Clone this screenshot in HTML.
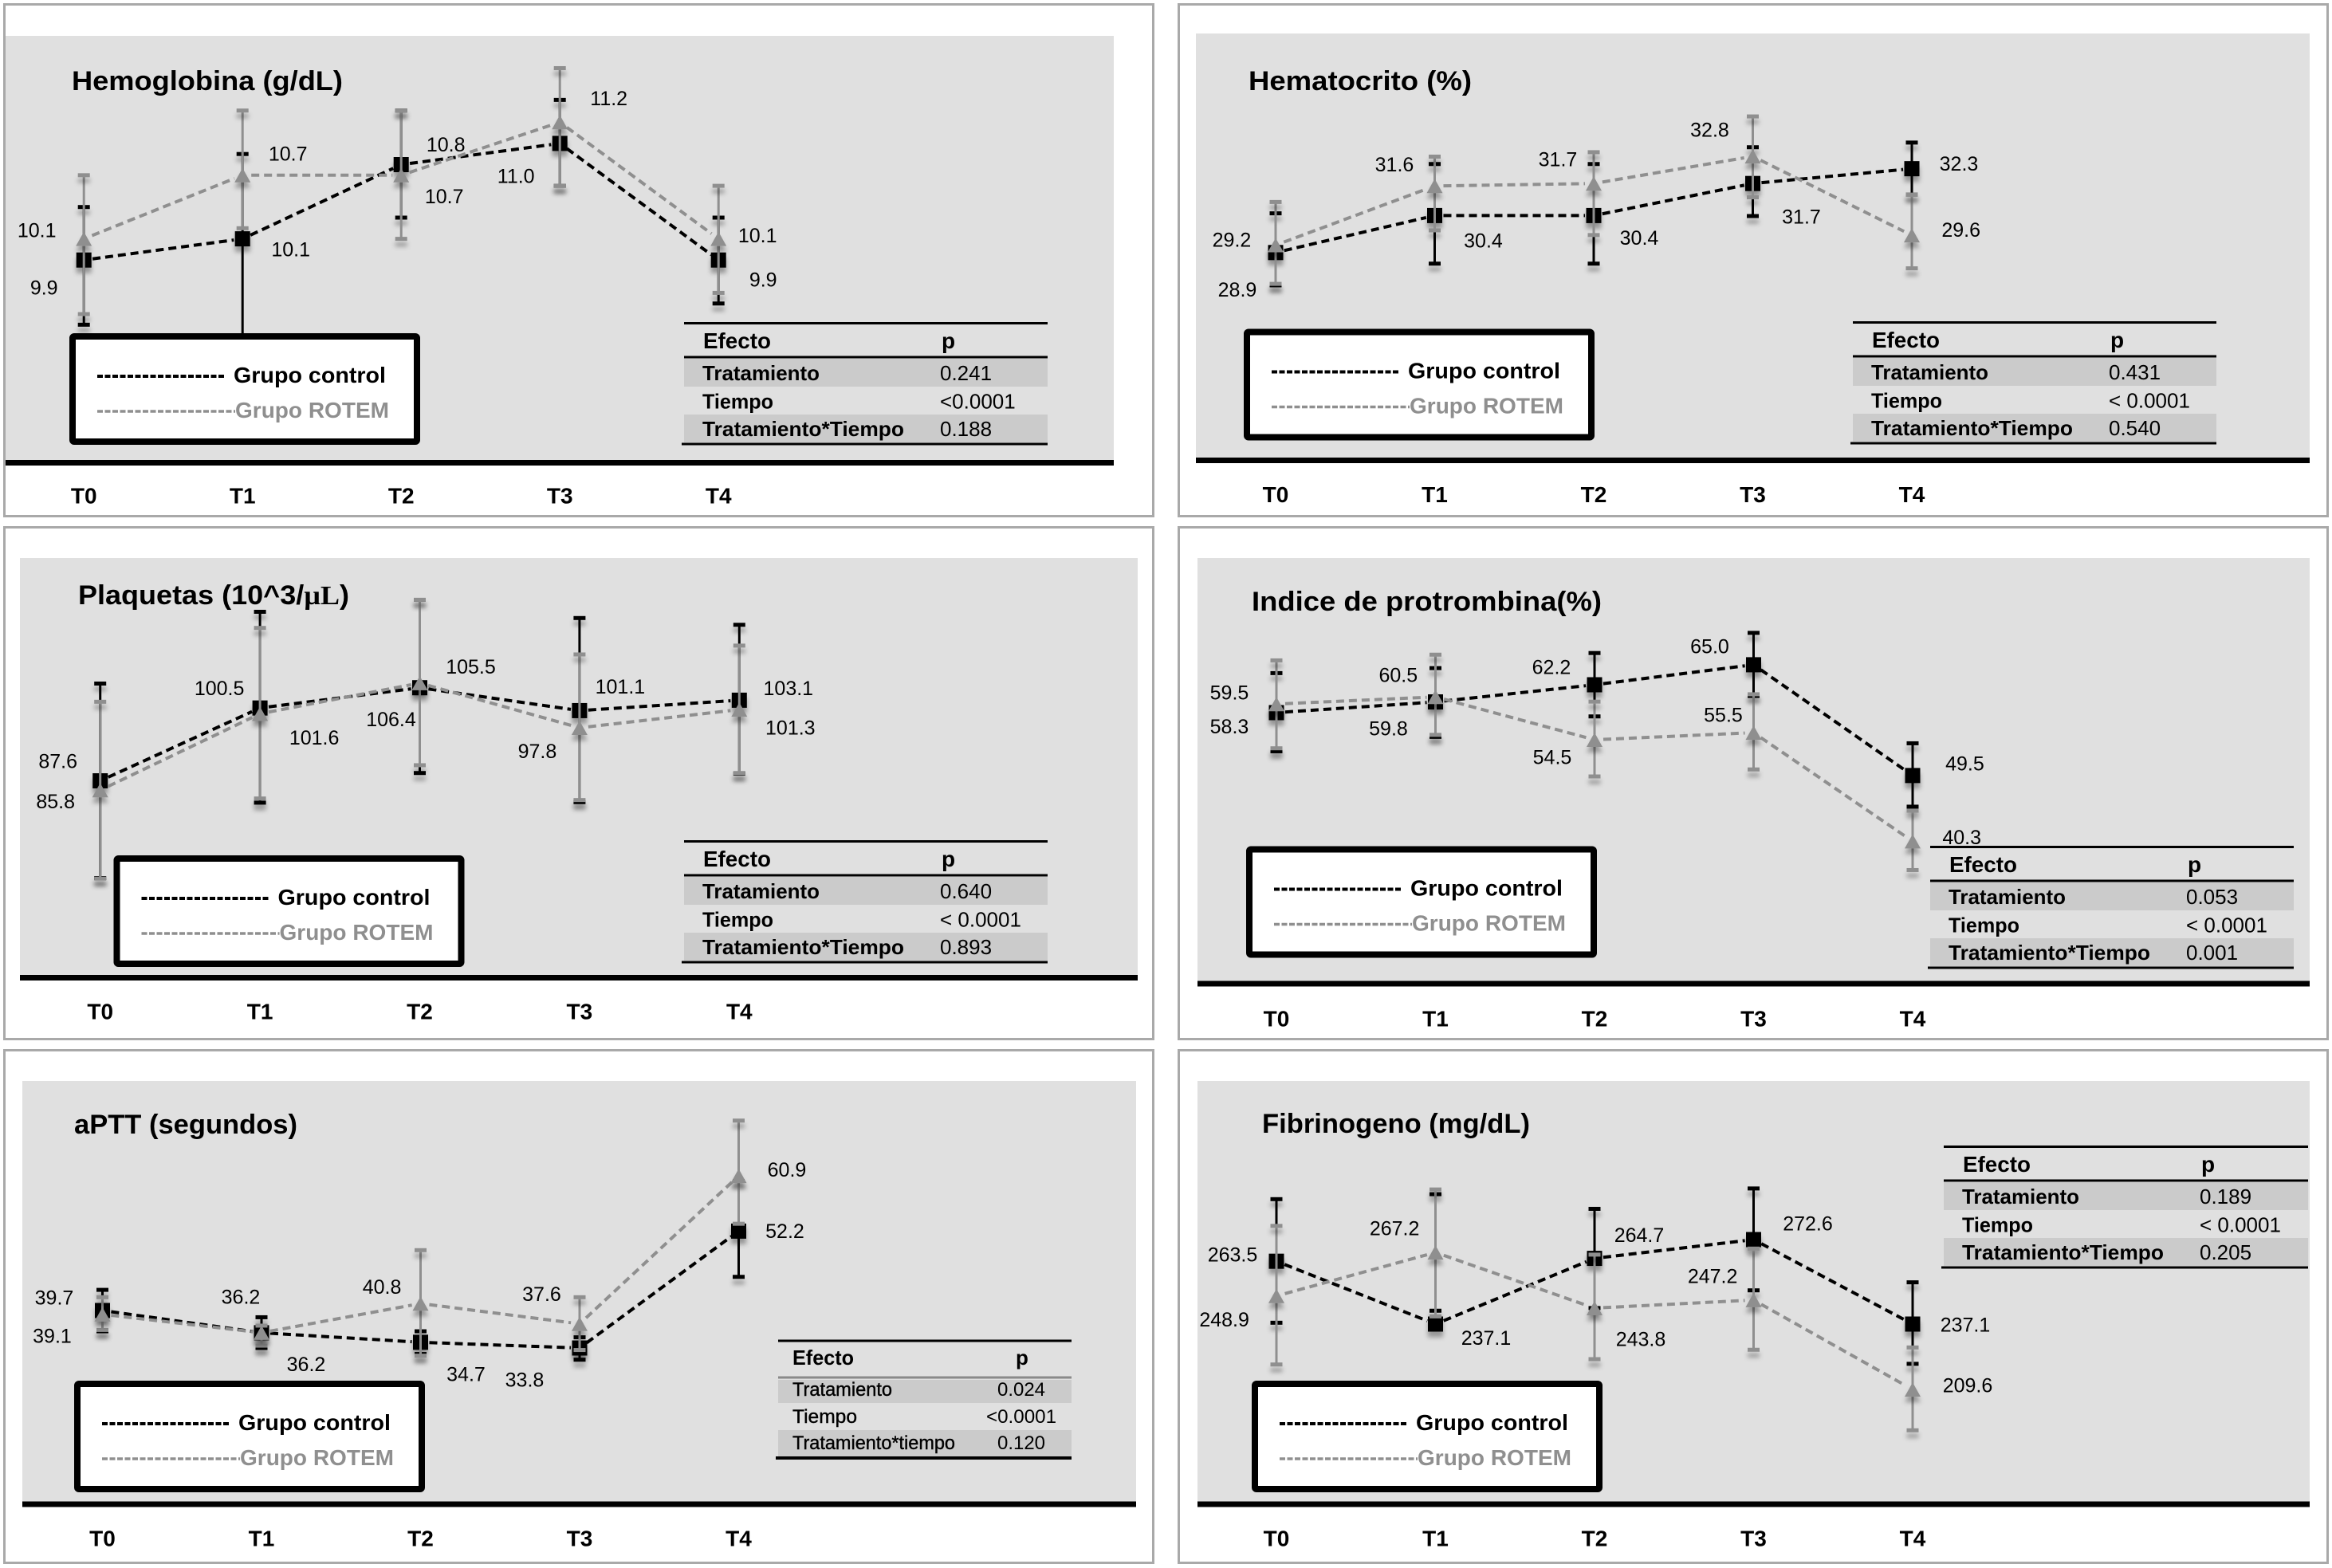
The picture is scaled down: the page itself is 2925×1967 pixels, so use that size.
<!DOCTYPE html>
<html lang="es">
<head>
<meta charset="utf-8">
<title>Parámetros hematológicos por tiempo</title>
<style>
  html,body{margin:0;padding:0;background:#fff;}
  svg{display:block;}
  text{font-family:"Liberation Sans",sans-serif;fill:#000;}
  .bg{fill:#e0e0e0;}
  .frame{fill:none;stroke:#a9a9a9;stroke-width:3;}
  .axis{fill:#000;}
  .title{font-size:34px;font-weight:bold;}
  .legend-box{fill:#fff;stroke:#000;stroke-width:8;}
  .legend-c{font-size:28px;font-weight:bold;}
  .legend-r{font-size:28px;font-weight:bold;fill:#8f8f8f;}
  .th{font-size:28px;font-weight:bold;}
  .tr{font-size:26px;font-weight:bold;}
  .tv{font-size:26px;}
  .row{fill:#cbcbcb;}
  .rule{stroke:#000;stroke-width:3;}
  .tick{font-size:28px;font-weight:bold;text-anchor:middle;}
  .val{font-size:25px;text-anchor:middle;}
  .lc{stroke:#000;stroke-width:4;stroke-dasharray:7 2.5;}
  .lr{stroke:#8f8f8f;stroke-width:3.5;stroke-dasharray:7 2.5;}
</style>
</head>
<body>
<svg id="figure" xmlns="http://www.w3.org/2000/svg" width="2925" height="1967" viewBox="0 0 2925 1967">
  <defs>
    <filter id="shadow" x="-80%" y="-80%" width="260%" height="400%">
      <feDropShadow dx="0" dy="7" stdDeviation="3" flood-color="#000" flood-opacity="0.33"/>
    </filter>
  </defs>
  <rect width="2925" height="1967" fill="#fff"/>

  <!-- PANEL 1 -->
  <g>
    <rect class="frame" x="5.5" y="5.5" width="1441" height="642"/>
    <rect class="bg" x="7" y="45" width="1390" height="535"/>
    <rect class="axis" x="7" y="577" width="1390" height="7"/>
    <text class="title" x="90" y="113" textLength="340" lengthAdjust="spacingAndGlyphs">Hemoglobina (g/dL)</text>
    <g id="plot-1"></g>
    <g transform="translate(87,418)">
      <rect class="legend-box" x="4" y="4" width="432" height="132" rx="2"/>
      <line class="lc" x1="35" y1="54" x2="196" y2="54"/>
      <text class="legend-c" x="206" y="62" textLength="191" lengthAdjust="spacingAndGlyphs">Grupo control</text>
      <line class="lr" x1="35" y1="98" x2="208" y2="98"/>
      <text class="legend-r" x="208" y="106" textLength="193" lengthAdjust="spacingAndGlyphs">Grupo ROTEM</text>
    </g>
    <g transform="translate(858,404)">
      <rect class="row" x="0" y="46" width="456" height="35"/>
      <rect class="row" x="0" y="116" width="456" height="35"/>
      <line class="rule" x1="0" y1="1.5" x2="456" y2="1.5"/>
      <line class="rule" x1="0" y1="44" x2="456" y2="44"/>
      <line class="rule" x1="-3" y1="153" x2="456" y2="153"/>
      <text class="th" x="24" y="33" textLength="85" lengthAdjust="spacingAndGlyphs">Efecto</text>
      <text class="th" x="323" y="33">p</text>
      <text class="tr" x="23" y="73" textLength="147" lengthAdjust="spacingAndGlyphs">Tratamiento</text>
      <text class="tv" x="321" y="73">0.241</text>
      <text class="tr" x="23" y="108.5" textLength="89" lengthAdjust="spacingAndGlyphs">Tiempo</text>
      <text class="tv" x="321" y="108.5">&lt;0.0001</text>
      <text class="tr" x="23" y="143" textLength="253" lengthAdjust="spacingAndGlyphs">Tratamiento*Tiempo</text>
      <text class="tv" x="321" y="143">0.188</text>
    </g>
  </g>

  <!-- PANEL 2 -->
  <g>
    <rect class="frame" x="1478.5" y="5.5" width="1441" height="642"/>
    <rect class="bg" x="1500" y="42" width="1397" height="535"/>
    <rect class="axis" x="1500" y="574" width="1397" height="7"/>
    <text class="title" x="1566" y="113" textLength="280" lengthAdjust="spacingAndGlyphs">Hematocrito (%)</text>
    <g id="plot-2"></g>
    <g transform="translate(1560,412.5)">
      <rect class="legend-box" x="4" y="4" width="432" height="132" rx="2"/>
      <line class="lc" x1="35" y1="54" x2="196" y2="54"/>
      <text class="legend-c" x="206" y="62" textLength="191" lengthAdjust="spacingAndGlyphs">Grupo control</text>
      <line class="lr" x1="35" y1="98" x2="208" y2="98"/>
      <text class="legend-r" x="208" y="106" textLength="193" lengthAdjust="spacingAndGlyphs">Grupo ROTEM</text>
    </g>
    <g transform="translate(2324,403)">
      <rect class="row" x="0" y="46" width="456" height="35"/>
      <rect class="row" x="0" y="116" width="456" height="35"/>
      <line class="rule" x1="0" y1="1.5" x2="456" y2="1.5"/>
      <line class="rule" x1="0" y1="44" x2="456" y2="44"/>
      <line class="rule" x1="-3" y1="153" x2="456" y2="153"/>
      <text class="th" x="24" y="33" textLength="85" lengthAdjust="spacingAndGlyphs">Efecto</text>
      <text class="th" x="323" y="33">p</text>
      <text class="tr" x="23" y="73" textLength="147" lengthAdjust="spacingAndGlyphs">Tratamiento</text>
      <text class="tv" x="321" y="73">0.431</text>
      <text class="tr" x="23" y="108.5" textLength="89" lengthAdjust="spacingAndGlyphs">Tiempo</text>
      <text class="tv" x="321" y="108.5">&lt; 0.0001</text>
      <text class="tr" x="23" y="143" textLength="253" lengthAdjust="spacingAndGlyphs">Tratamiento*Tiempo</text>
      <text class="tv" x="321" y="143">0.540</text>
    </g>
  </g>

  <!-- PANEL 3 -->
  <g>
    <rect class="frame" x="5.5" y="661.5" width="1441" height="642"/>
    <rect class="bg" x="25" y="700" width="1402" height="527"/>
    <rect class="axis" x="25" y="1223" width="1402" height="7"/>
    <text class="title" x="98" y="758" textLength="340" lengthAdjust="spacingAndGlyphs">Plaquetas (10^3/<tspan font-family="'Liberation Serif',serif">µL</tspan>)</text>
    <g id="plot-3"></g>
    <g transform="translate(142.5,1073)">
      <rect class="legend-box" x="4" y="4" width="432" height="132" rx="2"/>
      <line class="lc" x1="35" y1="54" x2="196" y2="54"/>
      <text class="legend-c" x="206" y="62" textLength="191" lengthAdjust="spacingAndGlyphs">Grupo control</text>
      <line class="lr" x1="35" y1="98" x2="208" y2="98"/>
      <text class="legend-r" x="208" y="106" textLength="193" lengthAdjust="spacingAndGlyphs">Grupo ROTEM</text>
    </g>
    <g transform="translate(858,1054)">
      <rect class="row" x="0" y="46" width="456" height="35"/>
      <rect class="row" x="0" y="116" width="456" height="35"/>
      <line class="rule" x1="0" y1="1.5" x2="456" y2="1.5"/>
      <line class="rule" x1="0" y1="44" x2="456" y2="44"/>
      <line class="rule" x1="-3" y1="153" x2="456" y2="153"/>
      <text class="th" x="24" y="33" textLength="85" lengthAdjust="spacingAndGlyphs">Efecto</text>
      <text class="th" x="323" y="33">p</text>
      <text class="tr" x="23" y="73" textLength="147" lengthAdjust="spacingAndGlyphs">Tratamiento</text>
      <text class="tv" x="321" y="73">0.640</text>
      <text class="tr" x="23" y="108.5" textLength="89" lengthAdjust="spacingAndGlyphs">Tiempo</text>
      <text class="tv" x="321" y="108.5">&lt; 0.0001</text>
      <text class="tr" x="23" y="143" textLength="253" lengthAdjust="spacingAndGlyphs">Tratamiento*Tiempo</text>
      <text class="tv" x="321" y="143">0.893</text>
    </g>
  </g>

  <!-- PANEL 4 -->
  <g>
    <rect class="frame" x="1478.5" y="661.5" width="1441" height="642"/>
    <rect class="bg" x="1502" y="700" width="1395" height="534"/>
    <rect class="axis" x="1502" y="1230.5" width="1395" height="7"/>
    <text class="title" x="1570" y="766" textLength="439" lengthAdjust="spacingAndGlyphs">Indice de protrombina(%)</text>
    <g id="plot-4"></g>
    <g transform="translate(1563,1061.5)">
      <rect class="legend-box" x="4" y="4" width="432" height="132" rx="2"/>
      <line class="lc" x1="35" y1="54" x2="196" y2="54"/>
      <text class="legend-c" x="206" y="62" textLength="191" lengthAdjust="spacingAndGlyphs">Grupo control</text>
      <line class="lr" x1="35" y1="98" x2="208" y2="98"/>
      <text class="legend-r" x="208" y="106" textLength="193" lengthAdjust="spacingAndGlyphs">Grupo ROTEM</text>
    </g>
    <g transform="translate(2421,1061)">
      <rect class="row" x="0" y="46" width="456" height="35"/>
      <rect class="row" x="0" y="116" width="456" height="35"/>
      <line class="rule" x1="0" y1="1.5" x2="456" y2="1.5"/>
      <line class="rule" x1="0" y1="44" x2="456" y2="44"/>
      <line class="rule" x1="-3" y1="153" x2="456" y2="153"/>
      <text class="th" x="24" y="33" textLength="85" lengthAdjust="spacingAndGlyphs">Efecto</text>
      <text class="th" x="323" y="33">p</text>
      <text class="tr" x="23" y="73" textLength="147" lengthAdjust="spacingAndGlyphs">Tratamiento</text>
      <text class="tv" x="321" y="73">0.053</text>
      <text class="tr" x="23" y="108.5" textLength="89" lengthAdjust="spacingAndGlyphs">Tiempo</text>
      <text class="tv" x="321" y="108.5">&lt; 0.0001</text>
      <text class="tr" x="23" y="143" textLength="253" lengthAdjust="spacingAndGlyphs">Tratamiento*Tiempo</text>
      <text class="tv" x="321" y="143">0.001</text>
    </g>
  </g>

  <!-- PANEL 5 -->
  <g>
    <rect class="frame" x="5.5" y="1317.5" width="1441" height="643"/>
    <rect class="bg" x="28" y="1356" width="1397" height="531"/>
    <rect class="axis" x="28" y="1883.5" width="1397" height="7"/>
    <text class="title" x="93" y="1422" textLength="280" lengthAdjust="spacingAndGlyphs">aPTT (segundos)</text>
    <g id="plot-5"></g>
    <g transform="translate(93,1732)">
      <rect class="legend-box" x="4" y="4" width="432" height="132" rx="2"/>
      <line class="lc" x1="35" y1="54" x2="196" y2="54"/>
      <text class="legend-c" x="206" y="62" textLength="191" lengthAdjust="spacingAndGlyphs">Grupo control</text>
      <line class="lr" x1="35" y1="98" x2="208" y2="98"/>
      <text class="legend-r" x="208" y="106" textLength="193" lengthAdjust="spacingAndGlyphs">Grupo ROTEM</text>
    </g>
    <g>
      <rect class="row" x="976" y="1731" width="368" height="29"/>
      <rect class="row" x="976" y="1794" width="368" height="33"/>
      <line class="rule" x1="976" y1="1682" x2="1344" y2="1682"/>
      <line x1="976" y1="1728" x2="1344" y2="1728" stroke="#8a8a8a" stroke-width="3"/>
      <line class="rule" x1="973" y1="1829" x2="1344" y2="1829" style="stroke-width:4"/>
      <text class="th" x="994" y="1712" textLength="77" lengthAdjust="spacingAndGlyphs" style="font-size:26px">Efecto</text>
      <text class="th" x="1282" y="1712" text-anchor="middle" style="font-size:26px">p</text>
      <text class="tr" x="994" y="1751" textLength="125" lengthAdjust="spacingAndGlyphs" style="font-size:24px;font-weight:normal;stroke:#000;stroke-width:.4">Tratamiento</text>
      <text class="tv" x="1281" y="1751" text-anchor="middle" style="font-size:24px">0.024</text>
      <text class="tr" x="994" y="1785" textLength="81" lengthAdjust="spacingAndGlyphs" style="font-size:24px;font-weight:normal;stroke:#000;stroke-width:.4">Tiempo</text>
      <text class="tv" x="1281" y="1785" text-anchor="middle" textLength="88" lengthAdjust="spacingAndGlyphs" style="font-size:24px">&lt;0.0001</text>
      <text class="tr" x="994" y="1818" textLength="204" lengthAdjust="spacingAndGlyphs" style="font-size:24px;font-weight:normal;stroke:#000;stroke-width:.4">Tratamiento*tiempo</text>
      <text class="tv" x="1281" y="1818" text-anchor="middle" style="font-size:24px">0.120</text>
    </g>
  </g>

  <!-- PANEL 6 -->
  <g>
    <rect class="frame" x="1478.5" y="1317.5" width="1441" height="643"/>
    <rect class="bg" x="1502" y="1356" width="1395" height="531"/>
    <rect class="axis" x="1502" y="1883.5" width="1395" height="7"/>
    <text class="title" x="1583" y="1421" textLength="336" lengthAdjust="spacingAndGlyphs">Fibrinogeno (mg/dL)</text>
    <g id="plot-6"></g>
    <g transform="translate(1570,1732)">
      <rect class="legend-box" x="4" y="4" width="432" height="132" rx="2"/>
      <line class="lc" x1="35" y1="54" x2="196" y2="54"/>
      <text class="legend-c" x="206" y="62" textLength="191" lengthAdjust="spacingAndGlyphs">Grupo control</text>
      <line class="lr" x1="35" y1="98" x2="208" y2="98"/>
      <text class="legend-r" x="208" y="106" textLength="193" lengthAdjust="spacingAndGlyphs">Grupo ROTEM</text>
    </g>
    <g transform="translate(2438,1437)">
      <rect class="row" x="0" y="46" width="457" height="35"/>
      <rect class="row" x="0" y="116" width="457" height="35"/>
      <line class="rule" x1="0" y1="1.5" x2="457" y2="1.5"/>
      <line class="rule" x1="0" y1="44" x2="457" y2="44"/>
      <line class="rule" x1="-3" y1="153" x2="457" y2="153"/>
      <text class="th" x="24" y="33" textLength="85" lengthAdjust="spacingAndGlyphs">Efecto</text>
      <text class="th" x="323" y="33">p</text>
      <text class="tr" x="23" y="73" textLength="147" lengthAdjust="spacingAndGlyphs">Tratamiento</text>
      <text class="tv" x="321" y="73">0.189</text>
      <text class="tr" x="23" y="108.5" textLength="89" lengthAdjust="spacingAndGlyphs">Tiempo</text>
      <text class="tv" x="321" y="108.5">&lt; 0.0001</text>
      <text class="tr" x="23" y="143" textLength="253" lengthAdjust="spacingAndGlyphs">Tratamiento*Tiempo</text>
      <text class="tv" x="321" y="143">0.205</text>
    </g>
  </g>
</svg>

<script>
// Shared categories
const timeLabels = ['T0', 'T1', 'T2', 'T3', 'T4'];

// Hemoglobina (g/dL)
const hemoControl = [9.9, 10.1, 10.8, 11.0, 9.9];
const hemoRotem = [10.1, 10.7, 10.7, 11.2, 10.1];
const hemoControlHigh = [10.40, 10.90, 11.31, 11.41, 10.30];
const hemoControlLow = [9.29, 9.00, 10.30, 10.60, 9.49];
const hemoRotemHigh = [10.70, 11.31, 11.31, 11.71, 10.60];
const hemoRotemLow = [9.39, 10.20, 10.10, 10.60, 9.59];

// Hematocrito (%)
const hctControl = [28.9, 30.4, 30.4, 31.7, 32.3];
const hctRotem = [29.2, 31.6, 31.7, 32.8, 29.6];
const hctControlHigh = [30.49, 32.49, 32.49, 33.17, 33.36];
const hctControlLow = [27.57, 28.45, 28.45, 30.38, 31.25];
const hctRotemHigh = [30.95, 32.79, 32.97, 34.42, 31.25];
const hctRotemLow = [27.63, 29.80, 29.61, 31.14, 28.26];

// Plaquetas (10^3/uL)
const pltControl = [87.6, 101.6, 105.5, 101.1, 103.1];
const pltRotem = [85.8, 100.5, 106.4, 97.8, 101.3];
const pltControlHigh = [106.3, 120.1, 122.4, 118.9, 117.6];
const pltControlLow = [68.9, 83.4, 89.1, 83.5, 89.0];
const pltRotemHigh = [102.8, 117.0, 122.4, 111.9, 113.6];
const pltRotemLow = [68.8, 84.2, 90.6, 83.9, 89.1];

// Indice de protrombina (%)
const ipControl = [58.3, 59.8, 62.2, 65.0, 49.5];
const ipRotem = [59.5, 60.5, 54.5, 55.5, 40.3];
const ipControlHigh = [63.83, 64.53, 66.64, 69.46, 54.01];
const ipControlLow = [52.89, 54.91, 57.77, 60.63, 45.14];
const ipRotemHigh = [65.61, 66.41, 59.84, 60.87, 44.58];
const ipRotemLow = [53.31, 55.19, 49.37, 50.35, 36.27];

// aPTT (segundos)
const apttControl = [39.7, 36.2, 34.7, 33.8, 52.2];
const apttRotem = [39.1, 36.2, 40.8, 37.6, 60.9];
const apttControlHigh = [42.95, 38.64, 36.43, 35.48, 60.09];
const apttControlLow = [36.43, 33.80, 32.85, 31.96, 45.00];
const apttRotemHigh = [41.79, 37.32, 49.20, 41.79, 69.60];
const apttRotemLow = [36.64, 34.17, 32.59, 33.48, 53.36];

// Fibrinogeno (mg/dL)
const fibControl = [263.5, 237.1, 264.7, 272.6, 237.1];
const fibRotem = [248.9, 267.2, 243.8, 247.2, 209.6];
const fibControlHigh = [289.58, 291.68, 285.51, 294.07, 254.64];
const fibControlLow = [237.66, 242.71, 243.83, 251.27, 220.40];
const fibRotemHigh = [278.35, 293.65, 266.28, 268.81, 227.28];
const fibRotemLow = [220.12, 240.33, 222.37, 226.30, 192.48];

// Layout only: axis calibration and value-label nudges relative to each mark
const panels = [
  { plot: 'plot-1', xStart: 105.2, xStep: 199, yRef: 9.9, yRefPx: 326.2, pxPerUnit: 133, tickY: 631.5,
    control: hemoControl, rotem: hemoRotem, cHigh: hemoControlHigh, cLow: hemoControlLow, rHigh: hemoRotemHigh, rLow: hemoRotemLow,
    cNudge: [[-50,35],[60.5,13.5],[56,-25],[-55,41],[56,25]],
    rNudge: [[-59,-10.5],[57,-27],[54,26.5],[61.5,-30],[49,-4]] },
  { plot: 'plot-2', xStart: 1600, xStep: 199.5, yRef: 28.9, yRefPx: 316.8, pxPerUnit: 30.93, tickY: 630,
    control: hctControl, rotem: hctRotem, cHigh: hctControlHigh, cLow: hctControlLow, rHigh: hctRotemHigh, rLow: hctRotemLow,
    cNudge: [[-48,46.7],[61,31.6],[57,28],[61,41.7],[59,-6.3]],
    rNudge: [[-55,-6.3],[-50.5,-27],[-45,-30],[-54,-33],[61.7,-6.7]] },
  { plot: 'plot-3', xStart: 125.7, xStep: 200.4, yRef: 87.6, yRefPx: 979.5, pxPerUnit: 6.524, tickY: 1278.5,
    control: pltControl, rotem: pltRotem, cHigh: pltControlHigh, cLow: pltControlLow, rHigh: pltRotemHigh, rLow: pltRotemLow,
    cNudge: [[-53,-24.4],[68,37.5],[64,-26],[51,-30],[61.5,-15]],
    rNudge: [[-56,14.3],[-51,-31.6],[-36,45.6],[-53,29.5],[64,23]] },
  { plot: 'plot-4', xStart: 1601, xStep: 199.5, yRef: 65, yRefPx: 833.9, pxPerUnit: 8.965, tickY: 1287.5,
    control: ipControl, rotem: ipRotem, cHigh: ipControlHigh, cLow: ipControlLow, rHigh: ipRotemHigh, rLow: ipRotemLow,
    cNudge: [[-59,17.7],[-59,33.7],[-54,-22],[-55,-22.7],[65.4,-14.7]],
    rNudge: [[-59,-14.3],[-46.7,-27],[-53,22],[-38,-22],[61.7,-4.6]] },
  { plot: 'plot-5', xStart: 128.5, xStep: 199.5, yRef: 33.8, yRefPx: 1691, pxPerUnit: 7.968, tickY: 1939.5,
    control: apttControl, rotem: apttRotem, cHigh: apttControlHigh, cLow: apttControlLow, rHigh: apttRotemHigh, rLow: apttRotemLow,
    cNudge: [[-60.5,-16],[56,39.4],[57,40],[-69,40],[58,0]],
    rNudge: [[-63,27],[-26,-45],[-48.4,-20.5],[-47.5,-37],[60.5,-7.5]] },
  { plot: 'plot-6', xStart: 1601, xStep: 199.5, yRef: 237.1, yRefPx: 1661, pxPerUnit: 2.986, tickY: 1939.5,
    control: fibControl, rotem: fibRotem, cHigh: fibControlHigh, cLow: fibControlLow, rHigh: fibRotemHigh, rLow: fibRotemLow,
    cNudge: [[-55,-8.4],[63.5,17.6],[56,-29],[68,-20],[66,0.8]],
    rNudge: [[-65.4,29.7],[-51.4,-30],[58,39],[-51.4,-29.7],[69,-5]] }
];

const SVGNS = 'http://www.w3.org/2000/svg';
const BLACK = '#000000';
const GREY = '#8f8f8f';
const LINE_TRIM = 11;

function make(tag, parent, attrs) {
  const node = document.createElementNS(SVGNS, tag);
  for (const key in attrs) node.setAttribute(key, attrs[key]);
  parent.appendChild(node);
  return node;
}

function trendPath(values, xAt, yAt) {
  let d = '';
  for (let i = 0; i < values.length - 1; i++) {
    const x1 = xAt(i), y1 = yAt(values[i]), x2 = xAt(i + 1), y2 = yAt(values[i + 1]);
    const len = Math.hypot(x2 - x1, y2 - y1);
    const ux = (x2 - x1) / len, uy = (y2 - y1) / len;
    d += 'M' + (x1 + ux * LINE_TRIM) + ' ' + (y1 + uy * LINE_TRIM) + 'L' + (x2 - ux * LINE_TRIM) + ' ' + (y2 - uy * LINE_TRIM);
  }
  return d;
}

function drawSeries(parent, values, highs, lows, xAt, yAt, color, markerShape, seriesName) {
  const group = make('g', parent, {});
  
  

  values.forEach(function (v, i) {
    const bar = make('line', group, { x1: xAt(i), x2: xAt(i), y1: yAt(highs[i]), y2: yAt(lows[i]), stroke: color, 'stroke-width': 3 });
    
    
  });

  const capGroup = make('g', group, { filter: 'url(#shadow)' });
  
  
  values.forEach(function (v, i) {
    [highs[i], lows[i]].forEach(function (end) {
      const cap = make('rect', capGroup, { x: xAt(i) - 7.5, y: yAt(end) - 2.5, width: 15, height: 5, fill: color });
      
      
    });
  });

  const trend = make('path', group, { d: trendPath(values, xAt, yAt), fill: 'none', stroke: color, 'stroke-width': 4, 'stroke-dasharray': '10 6' });
  
  

  const markerGroup = make('g', group, { filter: 'url(#shadow)' });
  
  
  values.forEach(function (v, i) {
    const cx = xAt(i);
    const cy = yAt(v);
    let mark;
    if (markerShape === 'square') {
      mark = make('rect', markerGroup, { x: cx - 9.5, y: cy - 9.5, width: 19, height: 19, fill: color });
    } else {
      mark = make('polygon', markerGroup, { points: cx + ',' + (cy - 9) + ' ' + (cx + 10) + ',' + (cy + 9) + ' ' + (cx - 10) + ',' + (cy + 9), fill: color });
    }
    
    
  });
}

function drawValueLabels(parent, values, nudges, xAt, yAt, seriesName) {
  values.forEach(function (v, i) {
    const label = make('text', parent, { x: xAt(i) + nudges[i][0], y: yAt(v) + nudges[i][1] + 8.5, class: 'val' });
    label.textContent = v.toFixed(1);
    
    
  });
}

panels.forEach(function (p) {
  const plot = document.getElementById(p.plot);
  const xAt = function (i) { return p.xStart + i * p.xStep; };
  const yAt = function (v) { return p.yRefPx - (v - p.yRef) * p.pxPerUnit; };

  drawSeries(plot, p.control, p.cHigh, p.cLow, xAt, yAt, BLACK, 'square', 'control');
  drawSeries(plot, p.rotem, p.rHigh, p.rLow, xAt, yAt, GREY, 'triangle', 'rotem');
  drawValueLabels(plot, p.control, p.cNudge, xAt, yAt, 'control');
  drawValueLabels(plot, p.rotem, p.rNudge, xAt, yAt, 'rotem');

  timeLabels.forEach(function (t, i) {
    const tick = make('text', plot, { x: xAt(i), y: p.tickY, class: 'tick' });
    tick.textContent = t;
    
    
  });
});
</script>
</body>
</html>
